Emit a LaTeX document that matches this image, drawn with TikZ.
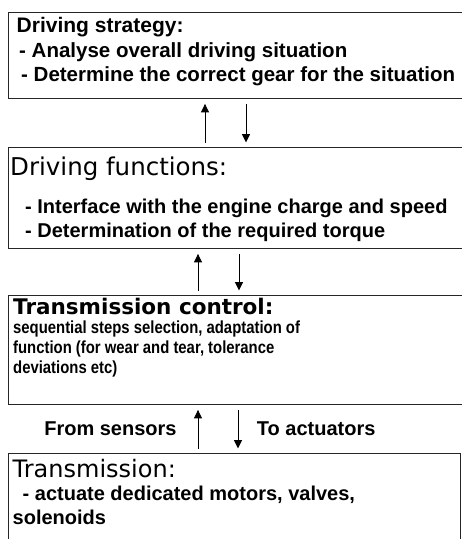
\documentclass[tikz,border=0pt]{standalone}
\usepackage{fontspec}
\setmainfont{Liberation Sans}
\newfontfamily\titlefont{DejaVu Sans}
\newfontfamily\narrowfont[FakeStretch=0.85]{Liberation Sans}
\usetikzlibrary{arrows.meta}

\begin{document}
\begin{tikzpicture}[
  x=1pt, y=-1pt,
  box/.style={rectangle, draw=black!85, line width=1.4pt, anchor=north west, inner sep=0pt},
  txt/.style={anchor=north west, align=left, inner sep=0pt, font=\bfseries\fontsize{20}{24}\selectfont},
  lbl/.style={inner sep=0pt, font=\bfseries\fontsize{20}{24}\selectfont},
  arr/.style={-{Triangle[length=8.5pt, width=8pt]}, line width=0.9pt, shorten <=4.5pt, shorten >=4.5pt}
]
\useasboundingbox (0,0) rectangle (462,539);
\clip (0,0) rectangle (462,539);

% the four layers
\node[box, minimum width=470pt, minimum height=86pt] (strat) at (8,12) {};
\node[box, minimum width=470pt, minimum height=101pt] (func) at (8,147) {};
\node[box, minimum width=470pt, minimum height=109pt] (ctrl) at (8,295) {};
\node[box, minimum width=452pt, minimum height=100pt] (trans) at (8,453) {};

% texts
\node[txt, font=\bfseries\fontsize{20.5}{24.5}\selectfont] (strat-txt) at ([xshift=8.5pt, yshift=-4.7pt]strat.north west)
  {{\fontsize{21}{24.5}\selectfont Driving strategy:}\\[0.5pt]
   \hspace*{2.5pt}- Analyse overall driving situation\\
   \hspace*{4.5pt}- Determine the correct gear for the situation};
\node[txt] (func-txt) at ([xshift=2pt, yshift=-9.8pt]func.north west)
  {{\titlefont\mdseries\fontsize{24.5}{24}\selectfont Driving functions:}\\[14pt]
   \hspace*{15pt}- Interface with the engine charge and speed\\
   \hspace*{15pt}- Determination of the required torque};
\node[txt, font=\narrowfont\bfseries\fontsize{17.5}{20}\selectfont] (ctrl-txt) at ([xshift=5pt, yshift=-3pt]ctrl.north west)
  {{\titlefont\bfseries\fontsize{21.5}{20}\selectfont Transmission control:}\\[-1pt]
   sequential steps selection, adaptation of\\
   function (for wear and tear, tolerance\\
   deviations etc)};
\node[txt] (trans-txt) at ([xshift=4.5pt, yshift=-5.8pt]trans.north west)
  {{\titlefont\mdseries\fontsize{24}{24}\selectfont Transmission:}\\[-1pt]
   \hspace*{10pt}- actuate dedicated motors, valves,\\
   solenoids};

% connectors
\draw[arr] ([xshift=197pt]func.north west) -- ([xshift=197pt]strat.south west);
\draw[arr] ([xshift=238pt]strat.south west) -- ([xshift=238pt]func.north west);
\draw[arr] ([xshift=190pt]ctrl.north west) -- ([xshift=190pt]func.south west);
\draw[arr] ([xshift=231pt]func.south west) -- ([xshift=231pt]ctrl.north west);
\draw[arr] ([xshift=190pt]trans.north west) -- ([xshift=190pt]ctrl.south west)
  node[lbl, midway, left=21pt] (from-lbl) {From sensors};
\draw[arr] ([xshift=230pt]ctrl.south west) -- ([xshift=230pt]trans.north west)
  node[lbl, midway, right=18.5pt] (to-lbl) {To actuators};
\end{tikzpicture}
\end{document}
